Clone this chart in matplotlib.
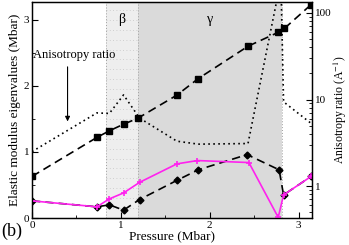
import matplotlib
matplotlib.use("Agg")
import matplotlib.pyplot as plt
from matplotlib.ticker import MultipleLocator, LogLocator, NullFormatter, FixedLocator, FixedFormatter

plt.rcParams['font.family'] = ['Liberation Serif', 'DejaVu Serif']
plt.rcParams['mathtext.fontset'] = 'stix'

# Data
sq_p = [0.0, 0.73, 0.87, 1.03, 1.19, 1.63, 1.87, 2.43, 2.77, 2.84, 3.14]
sq_v = [0.63, 1.22, 1.32, 1.42, 1.51, 1.86, 2.11, 2.60, 2.81, 2.87, 3.23]

dm_p = [0.0, 0.73, 0.87, 1.03, 1.21, 1.63, 1.87, 2.42, 2.78, 2.83, 3.14]
dm_v = [0.26, 0.17, 0.20, 0.12, 0.28, 0.57, 0.73, 0.96, 0.73, 0.35, 0.63]

mg_p = [0.0, 0.73, 0.87, 1.03, 1.21, 1.63, 1.86, 2.44, 2.77, 2.83, 3.14]
mg_v = [0.26, 0.17, 0.29, 0.38, 0.54, 0.82, 0.87, 0.84, 0.01, 0.35, 0.63]

an_p = [0.0, 0.73, 0.87, 1.03, 1.21, 1.63, 1.87, 2.43, 2.80, 2.83, 3.14]
an_v = [2.5, 7.0, 6.9, 11.3, 6.1, 3.3, 3.05, 3.1, 240.0, 9.4, 5.3]

beta_range = (0.83, 1.19)
gamma_range = (1.19, 2.81)

fig = plt.figure(figsize=(3.49, 2.45), dpi=100)
ax = fig.add_axes([0.0917, 0.110, 0.8023, 0.882])

ax.axvspan(*beta_range, color='#eeeeee', zorder=0, lw=0)
ax.axvspan(*gamma_range, color='#dadada', zorder=0, lw=0)
for xb in (beta_range[0], beta_range[1], gamma_range[1]):
    ax.axvline(xb, color='#a0a0a0', ls=(0, (1, 2)), lw=0.7, zorder=0.5)
yy = 0.15
while yy < 3.3:
    ax.plot(beta_range, [yy, yy], color='#c4c4c4', ls=(0, (1, 3)), lw=0.6, zorder=0.4)
    yy += 0.15

ax.plot(sq_p, sq_v, color='black', ls=(0, (5, 3)), lw=1.2, marker='s', ms=4, zorder=3)
ax.plot(dm_p, dm_v, color='black', ls=(0, (5, 3)), lw=1.2, marker='D', ms=3.5, zorder=3)
ax.plot(mg_p, mg_v, color='#ff22ee', ls='-', lw=1.2, marker='+', ms=5, mew=1.2, zorder=4)

ax.set_xlim(0, 3.15)
ax.set_ylim(0, 3.27)
ax.xaxis.set_major_locator(MultipleLocator(1))
ax.xaxis.set_minor_locator(MultipleLocator(0.5))
ax.yaxis.set_major_locator(MultipleLocator(1))
ax.yaxis.set_minor_locator(MultipleLocator(0.5))
ax.tick_params(which='both', direction='in', labelsize=8, top=False)
ax.tick_params(which='major', length=4, pad=2)
ax.tick_params(which='minor', length=2)

ax.set_xlabel('Pressure (Mbar)', fontsize=9.5, labelpad=0)
ax.set_ylabel('Elastic modulus eigenvalues (Mbar)', fontsize=9.5, labelpad=2)

ax.text(1.01, 3.0, 'β', fontsize=10, ha='center', va='center')
ax.text(2.0, 3.0, 'γ', fontsize=10, ha='center', va='center')

ax.annotate('', xy=(0.40, 1.42), xytext=(0.40, 2.33),
            arrowprops=dict(arrowstyle='-|>', color='black', lw=0.8, mutation_scale=7))
ax.text(0.01, 2.47, 'Anisotropy ratio', fontsize=9, ha='left', va='center')

ax2 = ax.twinx()
ax2.plot(an_p, an_v, color='black', ls=(0, (1, 2)), lw=1.2, zorder=3)
ax2.set_yscale('log')
ax2.set_ylim(0.427, 134)
ax2.yaxis.set_major_locator(FixedLocator([1, 10, 100]))
ax2.yaxis.set_major_formatter(FixedFormatter(['1', '10', '100']))
ax2.yaxis.set_minor_locator(LogLocator(base=10, subs=range(2, 10)))
ax2.yaxis.set_minor_formatter(NullFormatter())
ax2.tick_params(which='both', direction='in', labelsize=8)
ax2.tick_params(which='major', length=4, pad=2)
ax2.tick_params(which='minor', length=2)
ax2.set_ylabel(r'Anisotropy ratio (A$^{-1}$)', fontsize=8.5)
ax2.yaxis.set_label_coords(1.072, 0.5)

for a in (ax, ax2):
    for s in a.spines.values():
        s.set_linewidth(0.9)

fig.text(0.003, 0.055, '(b)', fontsize=13, ha='left', va='center')

fig.savefig('out.png', dpi=100)
